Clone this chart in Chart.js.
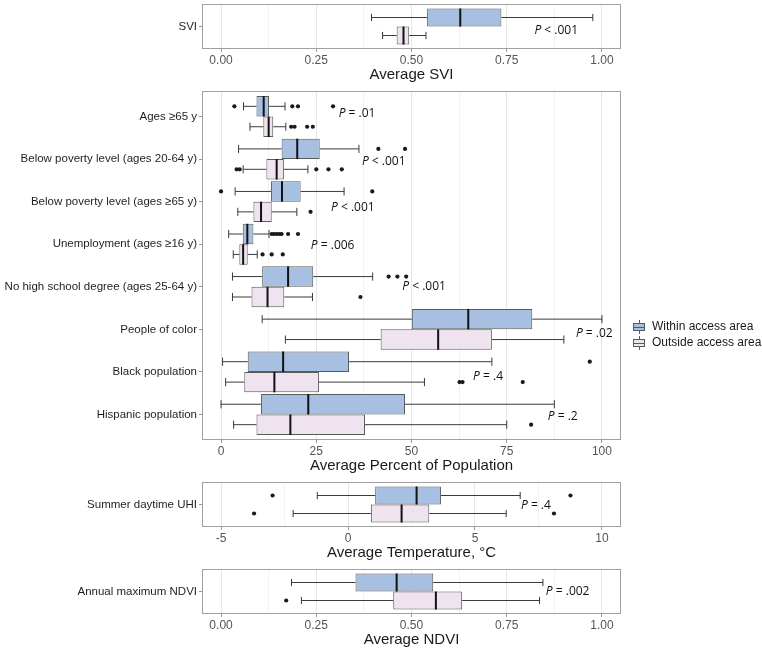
<!DOCTYPE html>
<html>
<head>
<meta charset="utf-8">
<script src="https://cdn.jsdelivr.net/npm/chart.js@4.4.0/dist/chart.umd.min.js"></script>
<style>
  html, body { margin: 0; padding: 0; background: #fff; }
  #wrap { position: relative; width: 762px; height: 650px; }
  canvas { position: absolute; left: 0; }
</style>
</head>
<body>
<div id="wrap">
  <canvas id="svi" width="762" height="84" style="top:0px"></canvas>
  <canvas id="pop" width="762" height="388" style="top:87px"></canvas>
  <canvas id="temp" width="762" height="84" style="top:478px"></canvas>
  <canvas id="ndvi" width="762" height="84" style="top:565px"></canvas>
</div>
<script>
// box stats are [lower whisker, Q1, median, Q3, upper whisker]
const groups = ['Within access area', 'Outside access area'];

const sviCats = ['SVI'];
const sviWithin = [[0.395, 0.541, 0.628, 0.736, 0.976]];
const sviOutside = [[0.424, 0.461, 0.479, 0.494, 0.538]];
const sviWithinOut = [[]];
const sviOutsideOut = [[]];
const sviP = ['< .001'];
const sviTicks = [0, 0.25, 0.5, 0.75, 1];
const sviTickLabels = ['0.00', '0.25', '0.50', '0.75', '1.00'];

const popCats = ['Ages ≥65 y', 'Below poverty level (ages 20-64 y)', 'Below poverty level (ages ≥65 y)',
  'Unemployment (ages ≥16 y)', 'No high school degree (ages 25-64 y)', 'People of color',
  'Black population', 'Hispanic population'];
const popWithin = [
  [5.9, 9.3, 11.2, 12.6, 16.8],
  [4.6, 15.9, 20.0, 25.9, 36.2],
  [3.7, 13.1, 16.0, 20.9, 32.3],
  [2.0, 5.7, 6.9, 8.5, 12.6],
  [3.0, 10.8, 17.6, 24.2, 39.8],
  [10.8, 50.1, 64.9, 81.7, 100],
  [0.4, 7.0, 16.3, 33.6, 71.1],
  [0.0, 10.5, 22.9, 48.3, 87.5]
];
const popOutside = [
  [7.6, 11.1, 12.5, 13.7, 17.0],
  [5.8, 11.9, 14.6, 16.5, 22.8],
  [4.4, 8.5, 10.5, 13.3, 19.9],
  [3.2, 4.8, 5.8, 7.0, 9.5],
  [3.0, 8.0, 12.2, 16.6, 24.0],
  [16.9, 41.9, 57.0, 71.1, 90.0],
  [1.2, 6.1, 14.0, 25.7, 53.4],
  [3.3, 9.3, 18.2, 37.8, 75.0]
];
const popWithinOut = [[3.5, 18.7, 20.2, 29.4], [41.3, 48.3], [0.0, 39.7],
  [13.3, 13.9, 14.6, 15.3, 15.9, 17.6, 20.2], [44.0, 46.3, 48.6], [], [96.8], []];
const popOutsideOut = [[18.4, 19.3, 22.6, 24.1], [4.1, 4.9, 25.0, 28.2, 31.7], [23.5],
  [10.9, 13.3, 16.2], [36.6], [], [62.6, 63.4, 79.2], [81.4]];
const popP = ['= .01', '< .001', '< .001', '= .006', '< .001', '= .02', '= .4', '= .2'];
const popTicks = [0, 25, 50, 75, 100];
const popTickLabels = ['0', '25', '50', '75', '100'];

const tempCats = ['Summer daytime UHI'];
const tempWithin = [[-1.21, 1.07, 2.70, 3.66, 6.78]];
const tempOutside = [[-2.16, 0.90, 2.11, 3.20, 6.23]];
const tempWithinOut = [[-2.97, 8.76]];
const tempOutsideOut = [[-3.70, 8.11]];
const tempP = ['= .4'];
const tempTicks = [-5, 0, 5, 10];
const tempTickLabels = ['-5', '0', '5', '10'];

const ndviCats = ['Annual maximum NDVI'];
const ndviWithin = [[0.185, 0.353, 0.461, 0.557, 0.845]];
const ndviOutside = [[0.211, 0.452, 0.564, 0.633, 0.836]];
const ndviWithinOut = [[]];
const ndviOutsideOut = [[0.171]];
const ndviP = ['= .002'];

const BLUE = '#a7bfe0';
const PINK = '#efe3ef';
const EDGE = '#5a5a5a';
const SANS = "'Liberation Sans', Arial, sans-serif";
const PFONT = "'Open Sans', sans-serif";

const boxExtras = {
  id: 'boxExtras',
  afterDatasetsDraw(chart) {
    const ctx = chart.ctx;
    const xs = chart.scales.x;
    chart.data.datasets.forEach((ds, d) => {
      chart.getDatasetMeta(d).data.forEach((bar, i) => {
        const [lo, q1, med, q3, hi] = ds.stats[i];
        const y = bar.y, h = bar.height;
        ctx.save();
        ctx.strokeStyle = '#3a3a3a';
        ctx.lineWidth = 1;
        ctx.beginPath();
        ctx.moveTo(xs.getPixelForValue(lo), y);
        ctx.lineTo(xs.getPixelForValue(q1), y);
        ctx.moveTo(xs.getPixelForValue(q3), y);
        ctx.lineTo(xs.getPixelForValue(hi), y);
        [lo, hi].forEach(v => {
          ctx.moveTo(xs.getPixelForValue(v), y - h * 0.2);
          ctx.lineTo(xs.getPixelForValue(v), y + h * 0.2);
        });
        ctx.stroke();
        ctx.strokeStyle = '#111';
        ctx.lineWidth = 2;
        ctx.beginPath();
        ctx.moveTo(xs.getPixelForValue(med), y - h / 2);
        ctx.lineTo(xs.getPixelForValue(med), y + h / 2);
        ctx.stroke();
        ctx.fillStyle = '#1a1a1a';
        ds.outliers[i].forEach(v => {
          ctx.beginPath();
          ctx.arc(xs.getPixelForValue(v), y, 2.1, 0, Math.PI * 2);
          ctx.fill();
        });
        ctx.restore();
      });
    });
  },
  afterDraw(chart) {
    const ctx = chart.ctx;
    const a = chart.chartArea;
    ctx.save();
    ctx.strokeStyle = '#a0a0a0';
    ctx.lineWidth = 1;
    ctx.strokeRect(Math.round(a.left) + 0.5, Math.round(a.top) + 0.5,
      Math.round(a.right - a.left) - 1, Math.round(a.bottom - a.top) - 1);
    // P value labels
    const xs = chart.scales.x, ys = chart.scales.y;
    const opt = chart.options.plugins.boxExtras;
    opt.pText.forEach((t, i) => {
      const cx = xs.getPixelForValue(opt.pAt[i][0]);
      const cy = ys.getPixelForValue(i + opt.pAt[i][1]);
      ctx.font = 'italic 12px ' + PFONT;
      const w1 = ctx.measureText('P').width;
      ctx.font = '12px ' + PFONT;
      const rest = ' ' + t;
      const w2 = ctx.measureText(rest).width;
      const x0 = cx - (w1 + w2) / 2;
      ctx.fillStyle = '#111';
      ctx.textBaseline = 'middle';
      ctx.textAlign = 'left';
      ctx.font = 'italic 12px ' + PFONT;
      ctx.fillText('P', x0, cy);
      ctx.font = '12px ' + PFONT;
      ctx.fillText(rest, x0 + w1, cy);
    });
    ctx.restore();
  }
};

const legendBox = {
  id: 'legendBox',
  afterDraw(chart) {
    const ctx = chart.ctx;
    const top = chart.canvas.offsetTop;
    const fills = [BLUE, PINK];
    ctx.save();
    groups.forEach((g, k) => {
      const y = 327 + k * 16 - top;
      const x = 633;
      ctx.fillStyle = fills[k];
      ctx.fillRect(x, y - 4, 12, 8);
      ctx.strokeStyle = EDGE;
      ctx.lineWidth = 1;
      ctx.strokeRect(x + 0.5, y - 3.5, 11, 7);
      ctx.beginPath();
      ctx.moveTo(x, y + 0.5); ctx.lineTo(x + 12, y + 0.5);
      ctx.moveTo(x + 6.5, y - 7); ctx.lineTo(x + 6.5, y - 4);
      ctx.moveTo(x + 6.5, y + 4); ctx.lineTo(x + 6.5, y + 7);
      ctx.stroke();
      ctx.fillStyle = '#1a1a1a';
      ctx.font = '12px ' + SANS;
      ctx.textBaseline = 'middle';
      ctx.fillText(g, x + 19, y);
    });
    ctx.restore();
  }
};

function noPad(s) {
  s.paddingTop = 0; s.paddingBottom = 0; s.paddingLeft = 0; s.paddingRight = 0;
}

function makePanel(id, cats, within, outside, withinOut, outsideOut, pText, pAt,
                   xMin, xMax, ticks, tickLabels, title, extraPlugins) {
  const minor = ticks.slice(1).map((t, i) => (t + ticks[i]) / 2);
  const allTicks = ticks.concat(minor).sort((a, b) => a - b);
  const n = cats.length;
  const catPct = 0.96 / (n > 1 ? 1 : 1.2);
  const mk = (stats, outs, label, color) => ({
    label: label,
    data: stats.map((s, i) => ({ x: [s[1], s[3]], y: i })),
    stats: stats,
    outliers: outs,
    backgroundColor: color,
    borderColor: EDGE,
    borderWidth: 1,
    borderSkipped: false,
    categoryPercentage: catPct,
    barPercentage: 1
  });
  return new Chart(document.getElementById(id), {
    type: 'bar',
    data: {
      datasets: [mk(within, withinOut, groups[0], BLUE), mk(outside, outsideOut, groups[1], PINK)]
    },
    options: {
      indexAxis: 'y',
      responsive: false,
      animation: false,
      layout: { padding: { top: 4, right: 141, left: 0, bottom: 0 } },
      plugins: {
        legend: { display: false },
        tooltip: { enabled: false },
        boxExtras: { pText: pText, pAt: pAt }
      },
      scales: {
        x: {
          type: 'linear',
          min: xMin,
          max: xMax,
          offset: false,
          afterBuildTicks: s => { s.ticks = allTicks.map(v => ({ value: v })); },
          afterFit: s => { s.height = 35; noPad(s); },
          border: { display: false },
          grid: {
            offset: false,
            color: c => ticks.includes(c.tick.value) ? '#e6e6e6' : '#f3f3f3',
            tickColor: c => ticks.includes(c.tick.value) ? '#9a9a9a' : 'rgba(0,0,0,0)',
            tickLength: 3
          },
          ticks: {
            padding: 1,
            maxRotation: 0,
            autoSkip: false,
            color: '#555',
            font: { family: SANS, size: 12 },
            callback: v => { const k = ticks.indexOf(v); return k >= 0 ? tickLabels[k] : ''; }
          },
          title: {
            display: true,
            text: title,
            color: '#1a1a1a',
            font: { family: SANS, size: 15 },
            padding: { top: 0, bottom: 0 }
          }
        },
        y: {
          type: 'linear',
          reverse: true,
          offset: false,
          min: -0.6,
          max: n - 0.4,
          afterBuildTicks: s => { s.ticks = cats.map((c, i) => ({ value: i })); },
          afterFit: s => { s.width = 202; noPad(s); },
          border: { display: false },
          grid: { offset: false, color: 'rgba(0,0,0,0)', tickColor: '#9a9a9a', tickLength: 3, drawOnChartArea: false },
          ticks: {
            padding: 2,
            color: '#1f1f1f',
            font: { family: SANS, size: 11.5 },
            callback: v => cats[v]
          }
        }
      }
    },
    plugins: [boxExtras].concat(extraPlugins || [])
  });
}

makePanel('svi', sviCats, sviWithin, sviOutside, sviWithinOut, sviOutsideOut,
  sviP, [[0.88, 0.1]], -0.05, 1.05, sviTicks, sviTickLabels, 'Average SVI');

makePanel('pop', popCats, popWithin, popOutside, popWithinOut, popOutsideOut,
  popP, [[35.7, -0.06], [42.7, 0.07], [34.6, 0.13], [29.3, 0.04], [53.3, 0.0], [98.0, 0.09], [70.1, 0.12], [89.7, 0.04]],
  -5, 105, popTicks, popTickLabels, 'Average Percent of Population', [legendBox]);

makePanel('temp', tempCats, tempWithin, tempOutside, tempWithinOut, tempOutsideOut,
  tempP, [[7.4, 0.04]], -5.75, 10.75, tempTicks, tempTickLabels, 'Average Temperature, °C');

makePanel('ndvi', ndviCats, ndviWithin, ndviOutside, ndviWithinOut, ndviOutsideOut,
  ndviP, [[0.91, 0.0]], -0.05, 1.05, sviTicks, sviTickLabels, 'Average NDVI');
</script>
</body>
</html>
